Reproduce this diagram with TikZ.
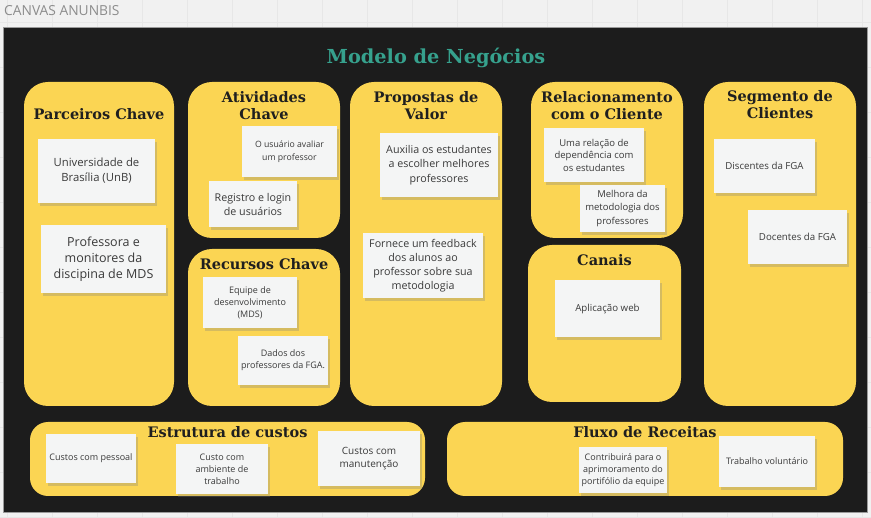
\documentclass[tikz,border=0pt]{standalone}
\usepackage{fontspec}
\setmainfont{Open Sans}
\newfontfamily\headfont{DejaVu Serif}
\usepackage{xcolor}
\definecolor{cvbg}{HTML}{F1F1F1}
\definecolor{cvgrid}{HTML}{E7E7E7}
\definecolor{cvdark}{HTML}{1C1C1C}
\definecolor{cvframe}{HTML}{9A9A9A}
\definecolor{cvyellow}{HTML}{FBD553}
\definecolor{cvteal}{HTML}{36A18D}
\definecolor{cvhead}{HTML}{1F1F1F}
\definecolor{cvnote}{HTML}{F4F5F5}
\definecolor{cvtext}{HTML}{3A3A3A}
\definecolor{cvlabel}{HTML}{8C8C8C}
\usetikzlibrary{positioning,shadows}
\tikzset{
  panel/.style={
    fill=cvyellow, rounded corners=24pt, inner sep=0pt
  },
  bandpanel/.style={
    fill=cvyellow, rounded corners=18pt, inner sep=0pt
  },
  paneltitle/.style={
    text=cvhead, align=center, inner sep=0pt,
    font=\headfont\bfseries\fontsize{14.5}{17}\selectfont
  },
  note/.style={
    fill=cvnote, text=cvtext, align=center, inner sep=0pt,
    drop shadow={shadow xshift=2pt, shadow yshift=-3pt, opacity=0.3}
  },
  notes/.style={note, font=\fontsize{9}{12.5}\selectfont},
  notem/.style={note, font=\fontsize{11}{15}\selectfont},
  notel/.style={note, font=\fontsize{12.5}{16}\selectfont}
}

\begin{document}
\begin{tikzpicture}[x=1pt, y=-1pt]

  %% ---- board ----
  \fill[cvbg] (0,0) rectangle (871,518);
  \useasboundingbox (0,0) rectangle (871,518);
  \foreach \gx in {7,52,...,871} \draw[cvgrid, line width=0.5pt] (\gx,0) -- (\gx,518);
  \foreach \gy in {22,67,...,518} \draw[cvgrid, line width=0.5pt] (0,\gy) -- (871,\gy);
  \node[anchor=base west, inner sep=0pt, text=cvlabel,
        font=\fontsize{13.8}{16}\selectfont] (board) at (4,16) {CANVAS ANUNBIS};
  \draw[fill=cvdark, draw=cvframe, line width=0.6pt] (3,27) rectangle (867,512);
  \node[anchor=base, inner sep=0pt, text=cvteal,
        font=\headfont\bfseries\fontsize{19.3}{21}\selectfont] (title) at (436,64) {Modelo de Negócios};

  %% ---- Parceiros Chave ----
  \node[panel, minimum width=150pt, minimum height=324pt] (par) at (99,244) {};
  \node[paneltitle, below=26pt of par.north] (par_t) {Parceiros Chave};
  \node[notem, font=\fontsize{11.3}{15}\selectfont,
        minimum width=117pt, minimum height=64pt] (par_n1) at (96.5,171)
    {Universidade de\\Brasília (UnB)};
  \node[notel, minimum width=125pt, minimum height=68pt] (par_n2) at (103.5,259)
    {Professora e\\monitores da\\discipina de MDS};

  %% ---- Atividades Chave ----
  \node[panel, minimum width=152pt, minimum height=156pt] (ati) at (264,160) {};
  \node[paneltitle, below=9pt of ati.north] (ati_t) {Atividades\\Chave};
  \node[notes, font=\fontsize{8.7}{12.5}\selectfont,
        minimum width=95pt, minimum height=51pt] (ati_n1) at (289.5,151.5)
    {O usuário avaliar\\um professor};
  \node[notem, font=\fontsize{10.7}{14}\selectfont,
        minimum width=88pt, minimum height=46pt] (ati_n2) at (253,204)
    {Registro e login\\de usuários};

  %% ---- Recursos Chave ----
  \node[panel, minimum width=152pt, minimum height=157pt] (rec) at (264,327.5) {};
  \node[paneltitle, below=9pt of rec.north] (rec_t) {Recursos Chave};
  \node[notes, font=\fontsize{9}{12}\selectfont,
        minimum width=94pt, minimum height=51pt] (rec_n1) at (250,302.5)
    {Equipe de\\desenvolvimento\\(MDS)};
  \node[notes, font=\fontsize{9}{12}\selectfont,
        minimum width=90pt, minimum height=49pt] (rec_n2) at (283,360.5)
    {Dados dos\\professores da FGA.};

  %% ---- Propostas de Valor ----
  \node[panel, minimum width=152pt, minimum height=324pt] (pro) at (426,244) {};
  \node[paneltitle, below=9pt of pro.north] (pro_t) {Propostas de\\Valor};
  \node[notem, font=\fontsize{10.7}{14.5}\selectfont,
        minimum width=118pt, minimum height=64pt] (pro_n1) at (439,165)
    {Auxilia os estudantes\\a escolher melhores\\professores};
  \node[notem, font=\fontsize{10.7}{14}\selectfont,
        minimum width=120pt, minimum height=65pt] (pro_n2) at (423,265.5)
    {Fornece um feedback\\dos alunos ao\\professor sobre sua\\metodologia};

  %% ---- Relacionamento com o Cliente ----
  \node[panel, minimum width=152pt, minimum height=156pt] (rel) at (607,160) {};
  \node[paneltitle, below=9pt of rel.north] (rel_t) {Relacionamento\\com o Cliente};
  \node[notes, font=\fontsize{9.5}{12.5}\selectfont,
        minimum width=100pt, minimum height=54pt] (rel_n1) at (594,155)
    {Uma relação de\\dependência com\\os estudantes};
  \node[notes, font=\fontsize{9.5}{13.5}\selectfont,
        minimum width=85pt, minimum height=47pt] (rel_n2) at (622.5,208.5)
    {Melhora da\\metodologia dos\\professores};

  %% ---- Canais ----
  \node[panel, minimum width=153pt, minimum height=157pt] (can) at (604.5,323.5) {};
  \node[paneltitle, below=9pt of can.north] (can_t) {Canais};
  \node[notes, font=\fontsize{9.7}{12.5}\selectfont,
        minimum width=105pt, minimum height=57pt] (can_n1) at (607.5,308.5)
    {Aplicação web};

  %% ---- Segmento de Clientes ----
  \node[panel, minimum width=152pt, minimum height=324pt] (seg) at (780,244) {};
  \node[paneltitle, below=8pt of seg.north] (seg_t) {Segmento de\\Clientes};
  \node[notes, font=\fontsize{9.7}{12.5}\selectfont,
        minimum width=101pt, minimum height=54pt] (seg_n1) at (764.5,166)
    {Discentes da FGA};
  \node[notes, font=\fontsize{9.7}{12.5}\selectfont,
        minimum width=99pt, minimum height=54pt] (seg_n2) at (797.5,237)
    {Docentes da FGA};

  %% ---- Estrutura de custos ----
  \node[bandpanel, minimum width=395pt, minimum height=74pt] (cus) at (227.5,459) {};
  \node[paneltitle, below=4pt of cus.north] (cus_t) {Estrutura de custos};
  \node[notes, minimum width=90pt, minimum height=49pt] (cus_n1) at (91,458.5)
    {Custos com pessoal};
  \node[notes, font=\fontsize{9}{12}\selectfont,
        minimum width=92pt, minimum height=50pt] (cus_n2) at (222,469)
    {Custo com\\ambiente de\\trabalho};
  \node[notes, font=\fontsize{10}{13}\selectfont,
        minimum width=102pt, minimum height=55pt] (cus_n3) at (369,458.5)
    {Custos com\\manutenção};

  %% ---- Fluxo de Receitas ----
  \node[bandpanel, minimum width=396pt, minimum height=74pt] (rct) at (645,459) {};
  \node[paneltitle, below=4pt of rct.north] (rct_t) {Fluxo de Receitas};
  \node[notes, font=\fontsize{9}{12}\selectfont,
        minimum width=88pt, minimum height=46pt] (rct_n1) at (623,470)
    {Contribuirá para o\\aprimoramento do\\portifólio da equipe};
  \node[notes, minimum width=96pt, minimum height=51pt] (rct_n2) at (767,461.5)
    {Trabalho voluntário};

\end{tikzpicture}
\end{document}
